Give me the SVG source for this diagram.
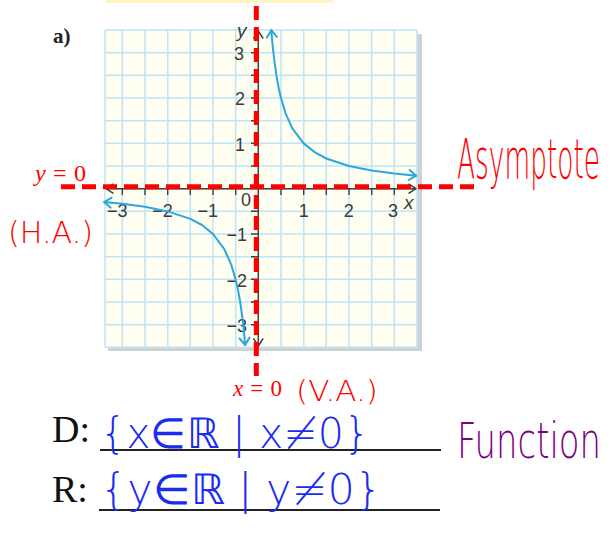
<svg xmlns="http://www.w3.org/2000/svg" width="612" height="540" viewBox="0 0 612 540">
<defs>
<style>
.grid{stroke:#bfe4f7;stroke-width:1.5;fill:none}
.axis{stroke:#3f3f3f;stroke-width:1.4;fill:none}
.tick{stroke:#3f3f3f;stroke-width:1.4}
.num{font-family:"Liberation Sans",Arial,sans-serif;font-size:18px;fill:#3a3a3a}
.var{font-family:"Liberation Sans",Arial,sans-serif;font-size:19px;font-style:italic;fill:#3a3a3a}
.curve{stroke:#2aa7e0;stroke-width:2;fill:none;stroke-linejoin:round;stroke-linecap:round}
.asym{stroke:#ff0000;stroke-width:5;stroke-dasharray:14 7;fill:none}
.serif{font-family:"Liberation Serif","Times New Roman",serif}
.hand{font-family:"DejaVu Sans",sans-serif;font-weight:200}
</style>
<marker id="blueHead" viewBox="-10 -7 12 14" markerWidth="12" markerHeight="14" refX="0" refY="0" orient="auto-start-reverse" markerUnits="userSpaceOnUse">
<path d="M-7,-5 L0,0 L-7,5" fill="none" stroke="#2aa7e0" stroke-width="2" stroke-linecap="round" stroke-linejoin="round"/>
</marker>
<marker id="axisHead" viewBox="-10 -7 12 14" markerWidth="12" markerHeight="14" refX="0" refY="0" orient="auto-start-reverse" markerUnits="userSpaceOnUse">
<path d="M-7,-4.5 L0,0 L-7,4.5" fill="none" stroke="#3f3f3f" stroke-width="1.5" stroke-linecap="round" stroke-linejoin="round"/>
</marker>
</defs>
<rect width="612" height="540" fill="#ffffff"/>
<rect x="106" y="0" width="227" height="3" fill="#fdf5c2"/>
<text class="serif" x="53" y="43" font-size="21" font-weight="bold" fill="#222">a)</text>
<g id="grid">
<rect x="108" y="34" width="314" height="317" fill="#cfd2d5"/>
<rect x="105" y="30" width="312" height="317.3" fill="#fefef1"/>
<path class="grid" d="M105,30V347.3M122.3,30V347.3M145,30V347.3M167.7,30V347.3M190.3,30V347.3M213,30V347.3M235.7,30V347.3M258.3,30V347.3M281,30V347.3M303.7,30V347.3M326.3,30V347.3M349,30V347.3M371.7,30V347.3M394.3,30V347.3M417,30V347.3
M105,30H417M105,52.7H417M105,75.3H417M105,98H417M105,120.7H417M105,143.3H417M105,166H417M105,188.7H417M105,211.3H417M105,234H417M105,256.7H417M105,279.3H417M105,302H417M105,324.7H417M105,347.3H417"/>
</g>
<g id="axes">
<line class="axis" x1="106" y1="188.7" x2="416" y2="188.7" marker-start="url(#axisHead)" marker-end="url(#axisHead)"/>
<line class="axis" x1="258.3" y1="31" x2="258.3" y2="346" marker-start="url(#axisHead)" marker-end="url(#axisHead)"/>
<path class="tick" d="M122.3,188.7V195M145,188.7V195M167.7,188.7V195M190.3,188.7V195M213,188.7V195M235.7,188.7V195M281,188.7V195M303.7,188.7V195M326.3,188.7V195M349,188.7V195M371.7,188.7V195M394.3,188.7V195
M251,52.7H258.3M251,75.3H258.3M251,98H258.3M251,120.7H258.3M251,143.3H258.3M251,166H258.3M251,211.3H258.3M251,234H258.3M251,256.7H258.3M251,279.3H258.3M251,302H258.3M251,324.7H258.3"/>
<text class="num" x="244" y="59.5" text-anchor="end">3</text>
<text class="num" x="245" y="105" text-anchor="end">2</text>
<text class="num" x="245" y="150.5" text-anchor="end">1</text>
<text class="num" x="247" y="241" text-anchor="end">−1</text>
<text class="num" x="247" y="286.5" text-anchor="end">−2</text>
<text class="num" x="247" y="332" text-anchor="end">−3</text>
<text class="num" x="303.7" y="216.5" text-anchor="middle">1</text>
<text class="num" x="348.7" y="216.5" text-anchor="middle">2</text>
<text class="num" x="393" y="216.5" text-anchor="middle">3</text>
<text class="num" x="246" y="205.5" text-anchor="middle">0</text>
<text class="num" x="218" y="216.5" text-anchor="end">−1</text>
<text class="num" x="172.7" y="216.5" text-anchor="end">−2</text>
<text class="num" x="127.5" y="216.5" text-anchor="end">−3</text>
<text class="var" x="237" y="37">y</text>
<text class="var" x="404" y="209">x</text>
</g>
<g id="connectors">
<polyline class="curve" marker-start="url(#blueHead)" marker-end="url(#blueHead)" points="271.3,30.2 271.9,37.6 272.8,47 274.2,59.2 276.4,75.4 278.7,88 281,98 285.5,113.1 292.3,128.3 303.6,143.4 315,152.4 326.3,158.5 349,166 371.6,170.6 394.3,173.6 416.1,175.7"/>
<polyline class="curve" marker-start="url(#blueHead)" marker-end="url(#blueHead)" points="104.2,202 122.3,203.8 145,206.8 167.6,211.4 190.3,218.9 202,225 213,234 224.3,249.1 231.1,264.3 235.6,279.4 237.9,289.4 240.2,302 242.4,318.2 243.8,330.4 245.2,345"/>
<line class="asym" x1="61" y1="186.7" x2="477" y2="186.7"/>
<line class="asym" x1="256.3" y1="6" x2="256.3" y2="376"/>
</g>
<g id="asymptote-labels" fill="#ff0000">
<text class="serif" x="35" y="181" font-size="24" textLength="51" lengthAdjust="spacing"><tspan font-style="italic">y</tspan>=0</text>
<text class="hand" x="8" y="243" font-size="30" textLength="85" lengthAdjust="spacingAndGlyphs">(H.A.)</text>
<text class="hand" transform="translate(457,178) scale(1,2.05)" x="0" y="0" font-size="27" textLength="143" lengthAdjust="spacingAndGlyphs">Asymptote</text>
<text class="serif" x="233" y="396" font-size="23" textLength="49" lengthAdjust="spacing"><tspan font-style="italic">x</tspan>=0</text>
<text class="hand" x="296" y="401" font-size="28" textLength="82" lengthAdjust="spacingAndGlyphs">(V.A.)</text>
</g>
<g id="domain">
<text class="serif" x="52" y="442" font-size="38" fill="#111">D:</text>
<line x1="100" y1="450" x2="441" y2="450" stroke="#222" stroke-width="2"/>
<text class="hand" x="100" y="448" font-size="42" fill="#1a2cf0" textLength="270" lengthAdjust="spacingAndGlyphs">{x∈ℝ | x≠0}</text>
</g>
<g id="range">
<text class="serif" x="52" y="502" font-size="38" fill="#111">R:</text>
<line x1="99" y1="510" x2="440" y2="510" stroke="#222" stroke-width="2"/>
<text class="hand" x="100" y="504" font-size="42" fill="#1a2cf0" textLength="282" lengthAdjust="spacingAndGlyphs">{y∈ℝ | y≠0}</text>
</g>
<g id="function-note">
<text class="hand" transform="translate(457,458) scale(1,1.5)" x="0" y="0" font-size="33" fill="#800080" textLength="144" lengthAdjust="spacingAndGlyphs">Function</text>
</g>
</svg>
